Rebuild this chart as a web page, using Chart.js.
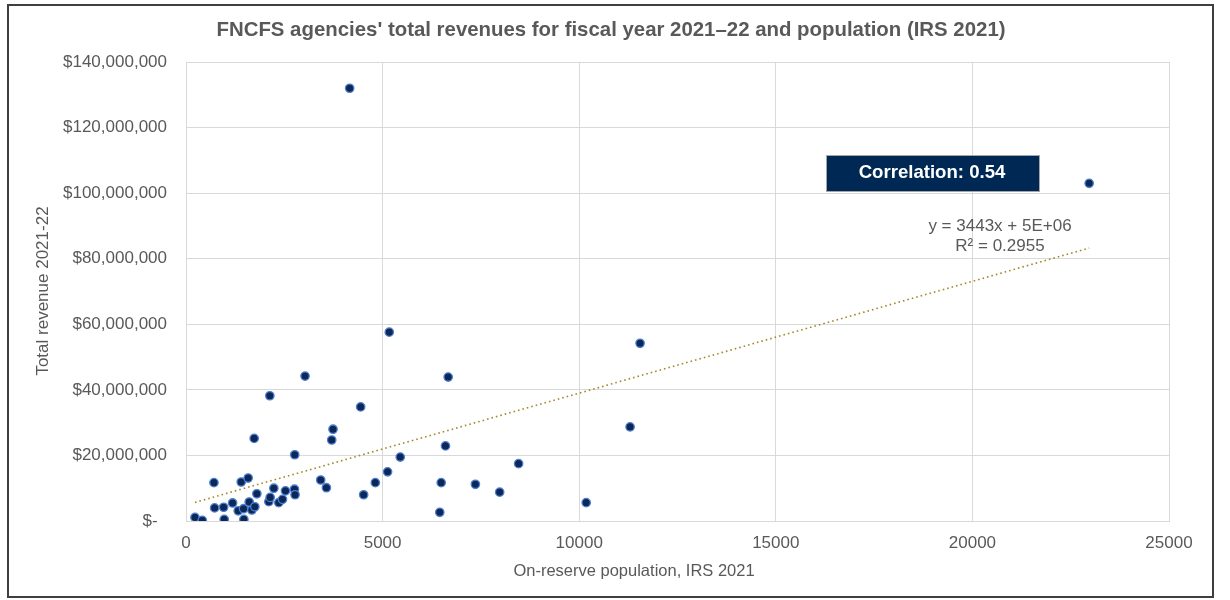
<!DOCTYPE html>
<html>
<head>
<meta charset="utf-8">
<script src="https://cdn.jsdelivr.net/npm/chart.js@4.4.0/dist/chart.umd.min.js"></script>
<style>
  html, body { margin: 0; padding: 0; background: #fff; }
  #wrap { position: absolute; left: 0; top: 0; width: 1230px; height: 600px; }
</style>
</head>
<body>
<div id="wrap"><canvas id="c" width="1230" height="600"></canvas></div>
<script>
// On-reserve population (IRS 2021)
const population = [
  228, 414, 711, 728, 957, 972, 1185, 1327, 1404, 1464,
  1472, 1581, 1607, 1675, 1751, 1734, 1802, 2107, 2140, 2132,
  2234, 2360, 2454, 2530, 2766, 2759, 2774, 3028, 3426, 3571,
  3706, 3739, 4442, 4518, 4815, 5127, 5449, 5170, 6668, 6599,
  6490, 7360, 7977, 8459, 6454, 10178, 11294, 11548, 22970, 4162
];
// Total revenue 2021-22 ($)
const revenue = [
  1100000, 200000, 11700000, 4000000, 4200000, 500000, 5500000, 3100000, 11900000, 3750000,
  500000, 13100000, 5800000, 3350000, 4350000, 25200000, 8300000, 5900000, 7200000, 38200000,
  10000000, 5600000, 6600000, 9200000, 20200000, 9700000, 8000000, 44200000, 12500000, 10150000,
  24700000, 28000000, 34800000, 8000000, 11700000, 15000000, 19500000, 57600000, 43900000, 22900000,
  11700000, 11200000, 8800000, 17500000, 2650000, 5600000, 28700000, 54200000, 103000000, 132000000
];
const xTicks = [0, 5000, 10000, 15000, 20000, 25000];
const yTicks = [0, 20000000, 40000000, 60000000, 80000000, 100000000, 120000000, 140000000];

const titleText = "FNCFS agencies' total revenues for fiscal year 2021\u201322 and population (IRS 2021)";
const xTitle = "On-reserve population, IRS 2021";
const yTitle = "Total revenue 2021-22";
const correlationText = "Correlation: 0.54";
const equationText = "y = 3443x + 5E+06";
const r2Text = "R\u00b2 = 0.2955";

// least-squares trendline from the data
const n = population.length;
const mx = population.reduce((a, b) => a + b, 0) / n;
const my = revenue.reduce((a, b) => a + b, 0) / n;
let sxy = 0, sxx = 0;
for (let i = 0; i < n; i++) { sxy += (population[i] - mx) * (revenue[i] - my); sxx += (population[i] - mx) ** 2; }
const slope = sxy / sxx;
const intercept = my - slope * mx;
const xMin = Math.min(...population), xMax = Math.max(...population);
const trend = [{x: xMin, y: intercept + slope * xMin}, {x: xMax, y: intercept + slope * xMax}];

const points = population.map((x, i) => ({x, y: revenue[i]}));

const FONT = "'Liberation Sans', Arial, sans-serif";
const GREY = '#595959';

const decor = {
  id: 'decor',
  beforeDraw(chart) {
    const ctx = chart.ctx;
    ctx.save();
    ctx.fillStyle = '#fff';
    ctx.fillRect(0, 0, chart.width, chart.height);
    ctx.restore();
  },
  afterDraw(chart) {
    const ctx = chart.ctx;
    const ca = chart.chartArea;
    ctx.save();
    // outer border
    ctx.strokeStyle = '#3f3f3f';
    ctx.lineWidth = 2;
    ctx.strokeRect(8, 5, 1205, 592);
    // plot area border
    ctx.strokeStyle = '#d9d9d9';
    ctx.lineWidth = 1;
    ctx.strokeRect(ca.left + 0.5, ca.top + 0.5, ca.right - ca.left, ca.bottom - ca.top);
    // title
    ctx.fillStyle = GREY;
    ctx.font = "bold 20.4px " + FONT;
    ctx.textAlign = 'center';
    ctx.textBaseline = 'middle';
    ctx.fillText(titleText, 611, 30);
    // axis titles
    ctx.font = "16.5px " + FONT;
    ctx.fillText(xTitle, 634, 571);
    ctx.save();
    ctx.translate(43, 291);
    ctx.rotate(-Math.PI / 2);
    ctx.font = "17px " + FONT;
    ctx.fillText(yTitle, 0, 0);
    ctx.restore();
    // correlation box
    ctx.fillStyle = '#002855';
    ctx.fillRect(826, 155, 213, 36);
    ctx.strokeStyle = '#a6a6a6';
    ctx.lineWidth = 1;
    ctx.strokeRect(826.5, 155.5, 213, 36);
    ctx.fillStyle = '#ffffff';
    ctx.font = "bold 18.6px " + FONT;
    ctx.fillText(correlationText, 932, 173);
    // equation
    ctx.fillStyle = GREY;
    ctx.font = "17px " + FONT;
    ctx.fillText(equationText, 1000, 226);
    ctx.fillText(r2Text, 1000, 246);
    ctx.restore();
  }
};

new Chart(document.getElementById('c'), {
  type: 'scatter',
  data: {
    datasets: [
      {
        label: 'Agencies',
        data: points,
        pointRadius: 4.2,
        pointHoverRadius: 4.2,
        pointBackgroundColor: '#0b2858',
        pointBorderColor: '#4f7fd0',
        pointBorderWidth: 1.3,
        order: 1
      },
      {
        label: 'Trend',
        type: 'line',
        data: trend,
        borderColor: '#a8862a',
        borderWidth: 1.6,
        borderDash: [1.6, 3],
        pointRadius: 0,
        fill: false,
        order: 2
      }
    ]
  },
  options: {
    responsive: false,
    animation: false,
    events: [],
    layout: { padding: { top: 62, right: 61, left: 0, bottom: 0 } },
    plugins: { legend: { display: false }, tooltip: { enabled: false }, title: { display: false } },
    scales: {
      x: {
        type: 'linear',
        min: 0, max: 25000,
        afterBuildTicks(scale) { scale.ticks = xTicks.map(v => ({value: v})); },
        afterFit(scale) { scale.height = 79; },
        grid: { color: '#d9d9d9', lineWidth: 1, drawTicks: false },
        border: { display: true, color: '#bfbfbf', width: 1 },
        ticks: { color: GREY, font: { family: FONT, size: 17 }, padding: 12, callback: v => String(v), maxRotation: 0 }
      },
      y: {
        type: 'linear',
        min: 0, max: 140000000,
        afterBuildTicks(scale) { scale.ticks = yTicks.map(v => ({value: v})); },
        afterFit(scale) { scale.width = 186; },
        grid: { color: '#d9d9d9', lineWidth: 1, drawTicks: false },
        border: { display: true, color: '#d9d9d9', width: 1 },
        ticks: {
          color: GREY, font: { family: FONT, size: 17 }, padding: 19,
          callback: v => v === 0 ? '$-  ' : '$' + v.toLocaleString('en-US')
        }
      }
    }
  },
  plugins: [decor]
});
</script>
</body>
</html>
